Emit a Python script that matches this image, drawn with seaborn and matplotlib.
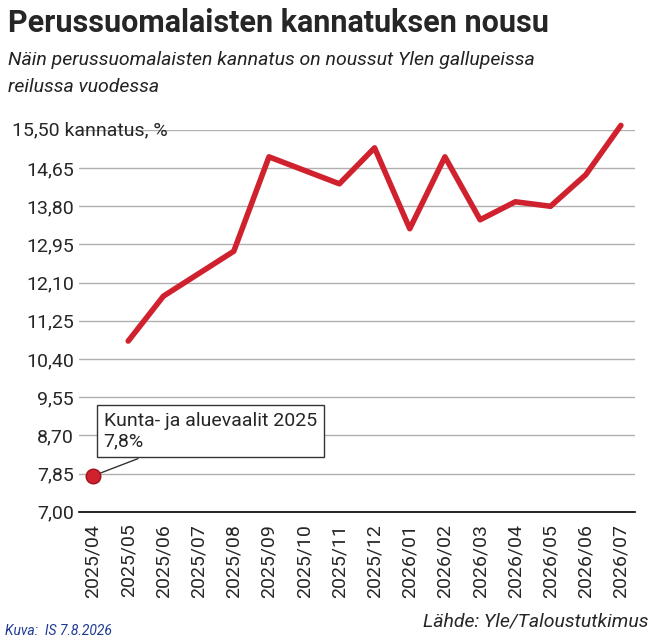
import matplotlib
matplotlib.use('Agg')

import matplotlib.pyplot as plt
import seaborn as sns
import pandas as pd

months = ['2025/04', '2025/05', '2025/06', '2025/07', '2025/08', '2025/09',
          '2025/10', '2025/11', '2025/12', '2026/01', '2026/02', '2026/03',
          '2026/04', '2026/05', '2026/06', '2026/07']
support = [None, 10.8, 11.8, 12.3, 12.8, 14.9, 14.6, 14.3, 15.1,
           13.3, 14.9, 13.5, 13.9, 13.8, 14.5, 15.6]
election_value = 7.8
yticks = [7.00, 7.85, 8.70, 9.55, 10.40, 11.25, 12.10, 12.95, 13.80, 14.65, 15.50]

sns.set_style('white')
plt.rcParams['font.family'] = ['Roboto', 'DejaVu Sans']

df = pd.DataFrame({'x': range(len(months)), 'y': support}).dropna()

fig = plt.figure(figsize=(6.58, 6.43), dpi=100)
ax = fig.add_axes([0.12, 0.204, 0.845, 0.594])

red = '#d0222e'
sns.lineplot(data=df, x='x', y='y', color=red, linewidth=4, ax=ax)
for ln in ax.lines:
    ln.set_clip_on(False)
ax.scatter([0], [election_value], s=110, color=red, edgecolor='#a0101a', zorder=5)

ax.set_ylim(7.0, 15.5)
ax.set_xlim(-0.4, len(months) - 0.6)
ax.set_yticks(yticks)
ax.set_yticklabels(['' if v == 15.5 else f'{v:.2f}'.replace('.', ',') for v in yticks],
                   fontsize=14)
ax.set_xticks(range(len(months)))
ax.set_xticklabels(months, rotation=90, fontsize=14)
ax.grid(axis='y', color='#b0b0b0', linewidth=1)
for s in ['top', 'right', 'left']:
    ax.spines[s].set_visible(False)
ax.spines['bottom'].set_color('black')
ax.spines['bottom'].set_linewidth(1.2)
ax.tick_params(axis='x', length=5, color='black')
ax.tick_params(axis='y', length=0)
ax.set_xlabel('')
ax.set_ylabel('')

ax.text(-0.12, 15.5, '15,50 kannatus, %', transform=ax.get_yaxis_transform(),
        fontsize=14, va='center', ha='left')

ax.annotate('Kunta- ja aluevaalit 2025\n7,8%', xy=(0, election_value),
            xytext=(0.3, 8.8), fontsize=14, va='center', ha='left',
            bbox=dict(boxstyle='square,pad=0.35', fc='white', ec='#333333', lw=1),
            arrowprops=dict(arrowstyle='-', color='#333333', lw=1))

fig.text(0.012, 0.965, 'Perussuomalaisten kannatuksen nousu', fontsize=22,
         fontweight='bold', va='center', fontstretch='condensed')
fig.text(0.012, 0.907, 'Näin perussuomalaisten kannatus on noussut Ylen gallupeissa',
         fontsize=14, style='italic', color='#222222', va='center')
fig.text(0.012, 0.865, 'reilussa vuodessa', fontsize=14, style='italic',
         color='#222222', va='center')
fig.text(0.985, 0.02, 'Lähde: Yle/Taloustutkimus', fontsize=14, style='italic',
         ha='right', va='bottom')
fig.text(0.008, 0.008, 'Kuva:  IS 7.8.2026', fontsize=10, style='italic',
         color='#1f3a93', ha='left', va='bottom')

plt.savefig('out.png', dpi=100)
plt.close()
